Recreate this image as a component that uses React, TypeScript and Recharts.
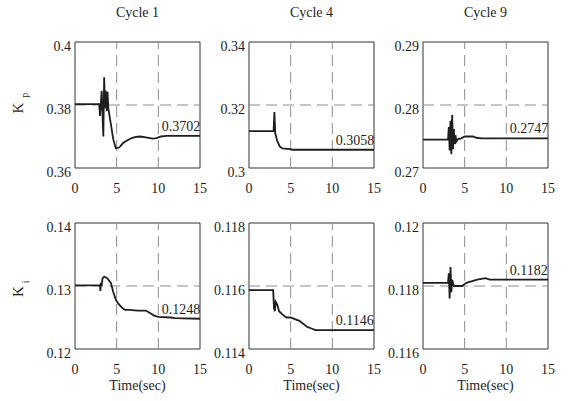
import React from "react";
import { LineChart, Line, XAxis, YAxis, ReferenceLine, ReferenceArea, ReferenceDot } from "recharts";

// values, t in sec
const kp1 = [
  { t: 0, v: 0.3803 }, { t: 2.9, v: 0.3803 }, { t: 3.0, v: 0.3765 }, { t: 3.1, v: 0.3803 },
  { t: 3.2, v: 0.3845 }, { t: 3.3, v: 0.377 }, { t: 3.4, v: 0.37 }, { t: 3.5, v: 0.3888 },
  { t: 3.6, v: 0.379 }, { t: 3.7, v: 0.3845 }, { t: 3.8, v: 0.378 }, { t: 3.9, v: 0.3842 },
  { t: 4.0, v: 0.379 }, { t: 4.3, v: 0.374 }, { t: 4.6, v: 0.369 }, { t: 4.9, v: 0.3663 },
  { t: 5.3, v: 0.3665 }, { t: 5.8, v: 0.368 }, { t: 6.3, v: 0.3688 }, { t: 6.8, v: 0.3695 },
  { t: 7.3, v: 0.3699 }, { t: 7.8, v: 0.37 }, { t: 8.5, v: 0.3697 }, { t: 9.3, v: 0.3693 },
  { t: 9.8, v: 0.3695 }, { t: 10.3, v: 0.37 }, { t: 11, v: 0.3702 }, { t: 15, v: 0.3702 },
];
const kp4 = [
  { t: 0, v: 0.3117 }, { t: 2.95, v: 0.3117 }, { t: 3.05, v: 0.3178 }, { t: 3.15, v: 0.311 },
  { t: 3.4, v: 0.3085 }, { t: 3.7, v: 0.3068 }, { t: 4.0, v: 0.3062 }, { t: 5.0, v: 0.306 },
  { t: 5.2, v: 0.3058 }, { t: 15, v: 0.3058 },
];
const kp9 = [
  { t: 0, v: 0.2745 }, { t: 3.0, v: 0.2745 }, { t: 3.1, v: 0.2765 }, { t: 3.2, v: 0.2728 },
  { t: 3.3, v: 0.2775 }, { t: 3.4, v: 0.2722 }, { t: 3.5, v: 0.2784 }, { t: 3.6, v: 0.273 },
  { t: 3.7, v: 0.2762 }, { t: 3.8, v: 0.2738 }, { t: 3.9, v: 0.2752 }, { t: 4.0, v: 0.2742 },
  { t: 4.2, v: 0.2746 }, { t: 4.6, v: 0.2747 }, { t: 5.0, v: 0.275 }, { t: 6.0, v: 0.275 },
  { t: 6.4, v: 0.2748 }, { t: 7, v: 0.2747 }, { t: 15, v: 0.2747 },
];
const ki1 = [
  { t: 0, v: 0.1301 }, { t: 3.0, v: 0.1301 }, { t: 3.05, v: 0.1292 }, { t: 3.1, v: 0.1305 },
  { t: 3.2, v: 0.13 }, { t: 3.3, v: 0.1312 }, { t: 3.5, v: 0.1315 }, { t: 3.9, v: 0.1312 },
  { t: 4.3, v: 0.1305 }, { t: 4.6, v: 0.129 }, { t: 4.9, v: 0.1278 }, { t: 5.2, v: 0.1272 },
  { t: 5.6, v: 0.1266 }, { t: 6.0, v: 0.1262 }, { t: 6.5, v: 0.1262 }, { t: 7.5, v: 0.1261 },
  { t: 8.5, v: 0.1261 }, { t: 9.0, v: 0.1257 }, { t: 9.5, v: 0.1253 }, { t: 10, v: 0.1251 },
  { t: 11.5, v: 0.125 }, { t: 12, v: 0.1249 }, { t: 15, v: 0.1248 },
];
const ki4 = [
  { t: 0, v: 0.11587 }, { t: 2.9, v: 0.11587 }, { t: 3.0, v: 0.1153 }, { t: 3.1, v: 0.1152 },
  { t: 3.2, v: 0.1155 }, { t: 3.4, v: 0.1154 }, { t: 3.6, v: 0.1152 }, { t: 4.0, v: 0.1151 },
  { t: 4.5, v: 0.115 }, { t: 5.0, v: 0.115 }, { t: 5.5, v: 0.11495 }, { t: 6.0, v: 0.1149 },
  { t: 6.5, v: 0.1148 }, { t: 7.0, v: 0.1147 }, { t: 7.5, v: 0.11465 }, { t: 8.0, v: 0.1146 },
  { t: 15, v: 0.1146 },
];
const ki9 = [
  { t: 0, v: 0.1181 }, { t: 3.0, v: 0.1181 }, { t: 3.1, v: 0.1184 }, { t: 3.2, v: 0.1176 },
  { t: 3.3, v: 0.1186 }, { t: 3.4, v: 0.1178 }, { t: 3.5, v: 0.1182 }, { t: 3.7, v: 0.118 },
  { t: 4.2, v: 0.118 }, { t: 4.7, v: 0.118 }, { t: 5.2, v: 0.1181 }, { t: 5.8, v: 0.11815 },
  { t: 6.5, v: 0.1182 }, { t: 7.5, v: 0.11825 }, { t: 8, v: 0.1182 }, { t: 15, v: 0.1182 },
];

const xTicks = [0, 5, 10, 15];
const titles = ["Cycle 1", "Cycle 4", "Cycle 9"];
const finals = ["0.3702", "0.3058", "0.2747", "0.1248", "0.1146", "0.1182"];
const yTicksKp = [[0.36, 0.38, 0.4], [0.3, 0.32, 0.34], [0.27, 0.28, 0.29]];
const yTicksKi = [[0.12, 0.13, 0.14], [0.114, 0.116, 0.118], [0.116, 0.118, 0.12]];

const TXT = { fontFamily: "Liberation Serif, DejaVu Serif, serif" };
const INK = "#1e1e1e";
const DASH = "#8c8c8c";

const COLS = [75, 249, 423];
const ROWS = [42, 223];
const PW = 125;

function Panel({ data, ticks, label, left, top }: { data: { t: number; v: number }[]; ticks: number[]; label: string; left: number; top: number }) {
  const last = data[data.length - 1];
  return (
    <div style={{ position: "absolute", left: left - 60, top: top - 30 }}>
      <LineChart width={200} height={200} data={data} margin={{ top: 30, right: 15, bottom: 14, left: 10 }}>
        <XAxis
          dataKey="t"
          type="number"
          domain={[0, 15]}
          ticks={xTicks}
          axisLine={false}
          tickLine={false}
          tickSize={0}
          tickMargin={0}
          height={30}
          tick={({ x, y, payload }: any) => (
            <text x={x} y={y + 25} textAnchor="middle" style={TXT} fontSize={14} fill={INK}>
              {payload.value}
            </text>
          )}
        />
        <YAxis
          type="number"
          domain={[ticks[0], ticks[2]]}
          ticks={ticks}
          allowDataOverflow
          axisLine={false}
          tickLine={false}
          tickSize={0}
          tickMargin={4}
          width={50}
          tick={({ x, y, payload }: any) => (
            <text x={x} y={y + 9} textAnchor="end" style={TXT} fontSize={14} fill={INK}>
              {String(payload.value)}
            </text>
          )}
        />
        <ReferenceLine x={5} stroke={DASH} strokeDasharray="11 6" />
        <ReferenceLine x={10} stroke={DASH} strokeDasharray="11 6" />
        <ReferenceLine y={ticks[1]} stroke={DASH} strokeDasharray="11 6" />
        <Line type="linear" dataKey="v" stroke={INK} strokeWidth={1.8} dot={false} isAnimationActive={false} />
        <ReferenceArea x1={0} x2={15} y1={ticks[0]} y2={ticks[2]} fill="none" stroke="#333" strokeWidth={1} fillOpacity={0} />
        <ReferenceDot
          x={10.4}
          y={last.v}
          r={0}
          stroke="none"
          fill="none"
          label={{
            content: ({ viewBox }: any) => (
              <text x={viewBox.x} y={viewBox.y - 5} style={TXT} fontSize={14} fill={INK}>
                {label}
              </text>
            ),
          }}
        />
      </LineChart>
    </div>
  );
}

export default function App() {
  const top = [kp1, kp4, kp9];
  const bottom = [ki1, ki4, ki9];
  return (
    <div style={{ position: "absolute", left: 0, top: 0, width: 568, height: 401, background: "#fff", overflow: "hidden" }}>
      {top.map((d, i) => (
        <Panel key={"p" + i} data={d} ticks={yTicksKp[i]} label={finals[i]} left={COLS[i]} top={ROWS[0]} />
      ))}
      {bottom.map((d, i) => (
        <Panel key={"i" + i} data={d} ticks={yTicksKi[i]} label={finals[i + 3]} left={COLS[i]} top={ROWS[1]} />
      ))}
      <svg width={568} height={401} style={{ position: "absolute", left: 0, top: 0, pointerEvents: "none" }}>
        {titles.map((t, i) => (
          <text key={t} x={COLS[i] + PW / 2} y={17} textAnchor="middle" style={TXT} fontSize={14} fill={INK}>
            {t}
          </text>
        ))}
        {COLS.map((c) => (
          <text key={c} x={c + PW / 2} y={390} textAnchor="middle" style={TXT} fontSize={14} fill={INK}>
            Time(sec)
          </text>
        ))}
        <text transform={`translate(23,113.5) rotate(-90)`} style={TXT} fontSize={15} fill={INK}>
          <tspan>K</tspan>
          <tspan fontSize={10} dx={5} dy={5}>p</tspan>
        </text>
        <text transform={`translate(23,297) rotate(-90)`} style={TXT} fontSize={15} fill={INK}>
          <tspan>K</tspan>
          <tspan fontSize={10} dx={3} dy={6}>i</tspan>
        </text>
      </svg>
    </div>
  );
}
